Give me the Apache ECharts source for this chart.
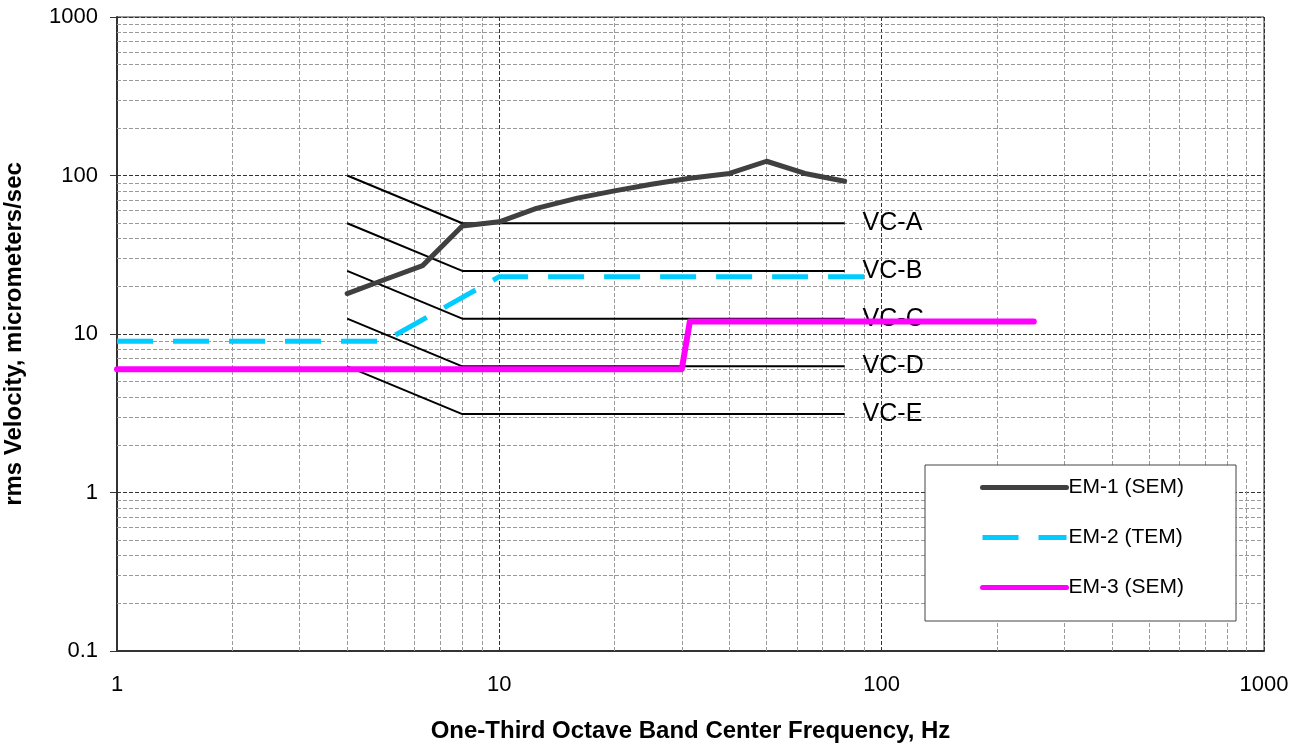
<!DOCTYPE html>
<html>
<head>
<meta charset="utf-8">
<script src="https://cdn.jsdelivr.net/npm/echarts@6/dist/echarts.min.js"></script>
<style>
html,body{margin:0;padding:0;background:#fff;}
#chart{width:1304px;height:746px;}
</style>
</head>
<body>
<div id="chart"></div>
<script>
// ---- data ----
var bands = [4, 5, 6.3, 8, 10, 12.5, 16, 20, 25, 31.5, 40, 50, 63, 80];
var em1Values = [18, 22, 27, 48, 51, 62, 72, 80, 88, 96, 103, 123, 103, 92];
var em2Freq = [1, 5, 10, 100];
var em2Values = [9, 9, 23, 23];
var em3Freq = [1, 30, 31.5, 250];
var em3Values = [6, 6, 12, 12];
var vcNames = ['VC-A', 'VC-B', 'VC-C', 'VC-D', 'VC-E'];
var vcFreq = [4, 8, 80];
var vcStart = [100, 50, 25, 12.5, 6.25];
var vcFlat = [50, 25, 12.5, 6.25, 3.125];
var xMinorLines = [2,3,4,5,6,7,8,9,20,30,40,50,60,70,80,90,200,300,400,500,600,700,800,900];
var yMinorLines = [0.2,0.3,0.4,0.5,0.6,0.7,0.8,0.9,2,3,4,5,6,7,8,9,20,30,40,50,60,70,80,90,200,300,400,500,600,700,800,900];
var xTickLabels = ['1', '10', '100', '1000'];
var yTickLabels = ['0.1', '1', '10', '100', '1000'];

function zip(xs, ys) { return xs.map(function (x, i) { return [x, ys[i]]; }); }

var FONT = '"Liberation Sans", Arial, sans-serif';
var series = [];

// minor grid lines through the axes' scales
series.push({
  type: 'line', name: 'minorGrid', data: [[1, 1]], showSymbol: false, symbol: 'none',
  lineStyle: { opacity: 0 }, silent: true, z: 1, animation: false, legendHoverLink: false,
  markLine: {
    silent: true, symbol: ['none', 'none'], animation: false, z: 1,
    label: { show: false },
    lineStyle: { color: '#9a9a9a', width: 1, type: [4, 2] },
    emphasis: { disabled: true },
    data: xMinorLines.map(function (v) { return { xAxis: v }; })
      .concat(yMinorLines.map(function (v) { return { yAxis: v }; }))
  }
});

vcNames.forEach(function (n, i) {
  series.push({
    type: 'line', name: n, z: 3, symbol: 'none', silent: true, animation: false,
    data: zip(vcFreq, [vcStart[i], vcFlat[i], vcFlat[i]]),
    lineStyle: { color: '#000', width: 2 },
    endLabel: { show: true, formatter: '{a}', fontSize: 25, fontFamily: FONT, color: '#000', distance: 18 }
  });
});

series.push({
  type: 'line', name: 'EM-2 (TEM)', z: 4, symbol: 'none', animation: false,
  data: zip(em2Freq, em2Values),
  lineStyle: { color: '#00CCFF', width: 5, type: [36, 20], cap: 'butt' }
});
series.push({
  type: 'line', name: 'EM-3 (SEM)', z: 4, symbol: 'none', animation: false,
  data: zip(em3Freq, em3Values),
  lineStyle: { color: '#FF00FF', width: 6, cap: 'round', join: 'round' }
});
series.push({
  type: 'line', name: 'EM-1 (SEM)', z: 5, symbol: 'none', animation: false,
  data: zip(bands, em1Values),
  lineStyle: { color: '#404040', width: 5, cap: 'round', join: 'round' }
});

var chart = echarts.init(document.getElementById('chart'), null, { renderer: 'canvas' });
chart.setOption({
  backgroundColor: '#fff',
  animation: false,
  textStyle: { fontFamily: FONT },
  grid: { left: 117, top: 17, right: 40, bottom: 95, show: true, borderColor: '#333', borderWidth: 1, containLabel: false, outerBoundsMode: 'none' },
  legend: {
    data: ['EM-1 (SEM)', 'EM-2 (TEM)', 'EM-3 (SEM)'],
    orient: 'vertical', left: 925, top: 465,
    backgroundColor: '#fff', borderColor: '#444', borderWidth: 1, borderRadius: 0,
    padding: [12, 52, 23, 55],
    itemWidth: 84, itemHeight: 14, itemGap: 29,
    lineStyle: { width: 5 },
    itemStyle: { opacity: 0 },
    textStyle: { fontSize: 21, color: '#000', fontFamily: FONT, padding: [4, 0, 0, -3] },
    selectedMode: false
  },
  xAxis: {
    type: 'log', logBase: 10, min: 1, max: 1000, splitNumber: 3,
    name: 'One-Third Octave Band Center Frequency, Hz', nameLocation: 'middle', nameGap: 68,
    nameTextStyle: { fontSize: 24, fontWeight: 'bold', color: '#000', fontFamily: FONT },
    axisLine: { show: true, lineStyle: { color: '#333', width: 2 } },
    axisTick: { show: false },
    axisLabel: {
      fontSize: 22, color: '#000', margin: 23, fontFamily: FONT,
      formatter: function (v) { var e = Math.round(Math.log10(v)); return xTickLabels[e] !== undefined ? xTickLabels[e] : ''; }
    },
    splitLine: { show: true, lineStyle: { color: '#333', width: 1, type: [4, 2] } },
    minorTick: { show: false }
  },
  yAxis: {
    type: 'log', logBase: 10, min: 0.1, max: 1000, splitNumber: 4,
    name: 'rms Velocity, micrometers/sec', nameLocation: 'middle', nameGap: 91, nameRotate: 90,
    nameTextStyle: { fontSize: 24, fontWeight: 'bold', color: '#000', fontFamily: FONT },
    axisLine: { show: true, lineStyle: { color: '#333', width: 2 } },
    axisTick: { show: true, length: 7, lineStyle: { color: '#333', width: 1 } },
    axisLabel: {
      fontSize: 22, color: '#000', margin: 19, fontFamily: FONT,
      formatter: function (v) { var e = Math.round(Math.log10(v)) + 1; return yTickLabels[e] !== undefined ? yTickLabels[e] : ''; }
    },
    splitLine: { show: true, lineStyle: { color: '#333', width: 1, type: [4, 2] } }
  },
  series: series
});
</script>
</body>
</html>
